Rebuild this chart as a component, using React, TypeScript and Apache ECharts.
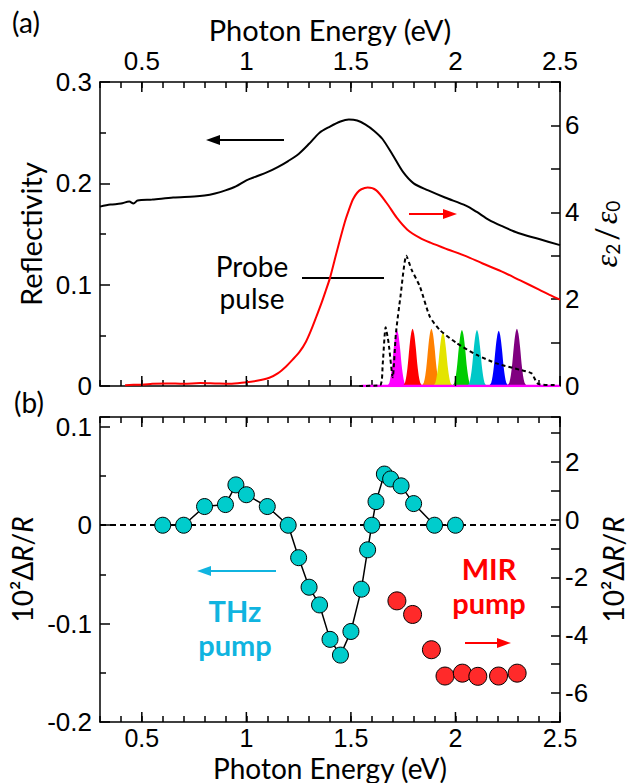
import React, { useEffect, useRef } from 'react';
import * as echarts from 'echarts';

// ---------- data ----------
const xMajorTicks = [0.5, 1, 1.5, 2, 2.5];

// (a) reflectivity (left axis)
const reflectivity = [
  [0.30, 0.177], [0.35, 0.179], [0.40, 0.180], [0.44, 0.182], [0.46, 0.180], [0.48, 0.183],
  [0.55, 0.184], [0.65, 0.186], [0.75, 0.187], [0.80, 0.188], [0.85, 0.190], [0.90, 0.193],
  [0.95, 0.197], [1.00, 0.203], [1.05, 0.207], [1.10, 0.211], [1.15, 0.216], [1.20, 0.222],
  [1.25, 0.229], [1.30, 0.239], [1.35, 0.250], [1.40, 0.256], [1.45, 0.261], [1.49, 0.263],
  [1.53, 0.262], [1.57, 0.258], [1.61, 0.252], [1.65, 0.244], [1.70, 0.228], [1.75, 0.211],
  [1.80, 0.200], [1.87, 0.193], [1.95, 0.186], [2.05, 0.178], [2.10, 0.172], [2.16, 0.164],
  [2.22, 0.158], [2.30, 0.151], [2.40, 0.145], [2.50, 0.139],
];

// (a) eps2/eps0 (right axis)
const epsilon2 = [
  [0.42, 0.02], [0.46, 0.03], [0.50, 0.03], [0.55, 0.05], [0.62, 0.06], [0.70, 0.05],
  [0.78, 0.07], [0.85, 0.06], [0.92, 0.05], [0.99, 0.08], [1.05, 0.12], [1.11, 0.19],
  [1.15, 0.29], [1.19, 0.45], [1.22, 0.60], [1.255, 0.79], [1.285, 1.02], [1.31, 1.29],
  [1.335, 1.60], [1.36, 1.92], [1.38, 2.20], [1.40, 2.49], [1.435, 3.14], [1.47, 3.76],
  [1.49, 4.05], [1.51, 4.30], [1.53, 4.45], [1.55, 4.53], [1.58, 4.57], [1.62, 4.51],
  [1.67, 4.22], [1.72, 3.87], [1.77, 3.60], [1.83, 3.41], [1.88, 3.30], [1.96, 3.15],
  [2.05, 2.99], [2.13, 2.82], [2.22, 2.64], [2.31, 2.43], [2.40, 2.22], [2.45, 2.10], [2.50, 1.99],
];

// (a) probe pulse spectrum (right axis, dashed)
const probePulse = [
  [1.54, 0], [1.64, 0.02], [1.652, 0.5], [1.666, 1.35], [1.68, 1.0], [1.70, 0.2], [1.715, 1.2],
  [1.737, 2.06], [1.765, 3.0], [1.79, 2.68], [1.83, 2.29], [1.877, 1.6], [1.925, 1.29],
  [2.005, 0.99], [2.10, 0.72], [2.196, 0.52], [2.31, 0.37], [2.364, 0.29], [2.395, 0.05], [2.48, 0.02],
];

// (a) coloured probe pulses
const pulseCenters = [1.72, 1.795, 1.885, 1.94, 2.031, 2.103, 2.207, 2.294];
const pulseHeights = [1.29, 1.32, 1.32, 1.24, 1.29, 1.29, 1.27, 1.32];
const pulseColors = ['#ff00ff', '#ff0000', '#ff8000', '#e4e400', '#00cc00', '#00c8c8', '#0000ff', '#800080'];
const pulseOffsets = [-0.048, -0.036, -0.025, -0.015, -0.007, 0, 0.007, 0.015, 0.025, 0.036, 0.048];
const pulseShape = [0, 0.06, 0.3, 0.68, 0.92, 1, 0.92, 0.68, 0.3, 0.06, 0];
const pulseBaseline = [1.55, 2.5];

// (b) THz pump (left axis)
const thzPump = [
  [0.6, 0], [0.7, 0], [0.8, 0.019], [0.9, 0.021], [0.95, 0.041], [1.0, 0.031], [1.1, 0.019],
  [1.2, 0], [1.25, -0.033], [1.3, -0.063], [1.35, -0.081], [1.4, -0.116], [1.45, -0.132],
  [1.5, -0.108], [1.55, -0.065], [1.58, -0.025], [1.6, 0], [1.62, 0.024], [1.66, 0.052],
  [1.69, 0.047], [1.74, 0.040], [1.8, 0.022], [1.9, 0], [2.0, 0],
];

// (b) MIR pump (right axis)
const mirPump = [
  [1.72, -2.81], [1.795, -3.28], [1.885, -4.5], [1.95, -5.41], [2.033, -5.31],
  [2.107, -5.42], [2.206, -5.41], [2.295, -5.31],
];

// ---------- styling ----------
const NUM = "'Liberation Sans', Arial, sans-serif";
const TXT = "Lato, 'Open Sans', sans-serif";
const CYAN_PT = '#00cccc';
const CYAN_TXT = '#10b4e0';
const RED = '#ff0000';

const fmtTenth = (v: number) => {
  const r = Math.round(v * 10) / 10;
  return Math.abs(v - r) < 1e-6 ? String(r) : '';
};
const fmtHalf = (v: number) => {
  const r = Math.round(v * 2) / 2;
  return Math.abs(v - r) < 1e-6 ? String(r) : '';
};
const fmtEven = (v: number) => {
  const r = Math.round(v);
  return Math.abs(v - r) < 1e-6 && r % 2 === 0 ? String(r === 0 ? 0 : r) : '';
};

const axisLine = { show: true, onZero: false, lineStyle: { color: '#000', width: 1.5 } };
const tickStyle = { color: '#000', width: 1.5 };
const numLabel = { color: '#000', fontFamily: NUM, fontSize: 26 };
const nameStyle = { color: '#000', fontFamily: TXT, fontSize: 29 };

function xAxis(grid: number, position: string, showLabel: boolean, name?: string) {
  const top = position === 'top';
  return {
    type: 'value', gridIndex: grid, position, min: 0.3, max: 2.5, interval: 0.1,
    axisLine, splitLine: { show: false },
    axisTick: { show: true, inside: true, length: 6, lineStyle: tickStyle },
    axisLabel: top
      ? { show: showLabel, formatter: fmtHalf, margin: 8, ...numLabel, lineHeight: 26 }
      : { show: showLabel, formatter: fmtHalf, margin: 4, ...numLabel, fontSize: 25, lineHeight: 23 },
    name: name || '', nameLocation: 'middle', nameGap: top ? 38 : 32,
    nameTextStyle: top ? nameStyle : { ...nameStyle, fontSize: 28, lineHeight: 27 },
  };
}

function majorTickSeries(xIdx: number, yIdx: number, yMin: number, yMax: number) {
  return {
    type: 'custom', xAxisIndex: xIdx, yAxisIndex: yIdx, silent: true, z: 10,
    data: xMajorTicks.map((v) => [v, yMin]),
    encode: { x: 0, y: 1 },
    renderItem: (_p: any, api: any) => {
      const v = api.value(0);
      const b = api.coord([v, yMin]);
      const t = api.coord([v, yMax]);
      return {
        type: 'group',
        children: [
          { type: 'line', shape: { x1: b[0], y1: b[1], x2: b[0], y2: b[1] - 10 }, style: { stroke: '#000', lineWidth: 1.5 } },
          { type: 'line', shape: { x1: t[0], y1: t[1], x2: t[0], y2: t[1] + 10 }, style: { stroke: '#000', lineWidth: 1.5 } },
        ],
      };
    },
  };
}

function arrow(x1: number, x2: number, y: number, color: string, head = 14, half = 5, width = 2) {
  const dir = x2 > x1 ? 1 : -1;
  const base = x2 - dir * head;
  return [
    { type: 'line', shape: { x1, y1: y, x2: base, y2: y }, style: { stroke: color, lineWidth: width } },
    { type: 'polygon', shape: { points: [[x2, y], [base, y - half], [base, y + half]] }, style: { fill: color } },
  ];
}

function txt(text: string, x: number, y: number, extra: any = {}) {
  return {
    type: 'text', x, y,
    style: { text, fill: '#000', font: `28px ${TXT}`, align: 'center', verticalAlign: 'middle', ...extra },
  };
}

export default function App() {
  const ref = useRef<HTMLDivElement>(null);
  useEffect(() => {
    if (!ref.current) return;
    const chart = echarts.init(ref.current, undefined, { renderer: 'svg' });

    const pulseSeries = pulseCenters.map((c, i) => ({
      type: 'line', xAxisIndex: 0, yAxisIndex: 1, z: 2, silent: true,
      data: pulseOffsets.map((o, k) => [c + o, pulseHeights[i] * pulseShape[k]]),
      symbol: 'none', smooth: 0.3, lineStyle: { width: 0 },
      areaStyle: { color: pulseColors[i], opacity: 1 },
    }));

    const richR = {
      n: { fontFamily: TXT, fontSize: 28, color: '#000' },
      i: { fontFamily: TXT, fontStyle: 'italic', fontSize: 28, color: '#000' },
    };

    const option: any = {
      animation: false,
      backgroundColor: '#fff',
      grid: [
        { left: 100, right: 77, top: 82, height: 304 },
        { left: 100, right: 77, top: 417, height: 305 },
      ],
      xAxis: [
        xAxis(0, 'bottom', false),
        xAxis(0, 'top', true, 'Photon Energy (eV)'),
        xAxis(1, 'top', false),
        xAxis(1, 'bottom', true, 'Photon Energy (eV)'),
      ],
      yAxis: [
        {
          type: 'value', gridIndex: 0, position: 'left', min: 0, max: 0.3, interval: 0.1,
          axisLine, splitLine: { show: false },
          axisTick: { inside: true, length: 10, lineStyle: tickStyle },
          minorTick: { show: true, splitNumber: 2, length: 6, lineStyle: tickStyle },
          axisLabel: { formatter: fmtTenth, margin: 8, ...numLabel },
          name: 'Reflectivity', nameLocation: 'middle', nameGap: 48, nameRotate: 90, nameTextStyle: nameStyle,
        },
        {
          type: 'value', gridIndex: 0, position: 'right', min: 0, max: 7, interval: 1,
          axisLine, splitLine: { show: false },
          axisTick: { inside: true, length: 9, lineStyle: tickStyle },
          axisLabel: { formatter: fmtEven, margin: 5, ...numLabel },
          name: '{i|ε}{s|2}{n|/}{i|ε}{s|0}', nameLocation: 'middle', nameGap: 24, nameRotate: 90,
          nameTextStyle: {
            rich: {
              i: { fontFamily: "'Liberation Serif', serif", fontStyle: 'italic', fontSize: 32, color: '#000' },
              s: { fontFamily: TXT, fontSize: 19, color: '#000', verticalAlign: 'bottom' },
              n: { fontFamily: TXT, fontSize: 30, color: '#000', padding: [0, 3, 0, 3] },
            },
          },
        },
        {
          type: 'value', gridIndex: 1, position: 'left', min: -0.2, max: 0.11, interval: 0.1,
          axisLine, splitLine: { show: false },
          axisTick: { inside: true, length: 10, lineStyle: tickStyle },
          minorTick: { show: true, splitNumber: 2, length: 6, lineStyle: tickStyle },
          axisLabel: { formatter: fmtTenth, margin: 8, ...numLabel },
          name: '{n|10²Δ}{i|R}{n|/}{i|R}', nameLocation: 'middle', nameGap: 56, nameRotate: 90,
          nameTextStyle: { rich: richR },
        },
        {
          type: 'value', gridIndex: 1, position: 'right', min: -7, max: 3.55, interval: 1,
          axisLine, splitLine: { show: false },
          axisTick: { inside: true, length: 9, lineStyle: tickStyle },
          axisLabel: { formatter: fmtEven, margin: 5, ...numLabel },
          name: '{n|10²Δ}{i|R}{n|/}{i|R}', nameLocation: 'middle', nameGap: 26, nameRotate: 90,
          nameTextStyle: { rich: richR },
        },
      ],
      series: [
        majorTickSeries(0, 0, 0, 0.3),
        majorTickSeries(3, 2, -0.2, 0.11),
        {
          type: 'line', xAxisIndex: 0, yAxisIndex: 0, data: reflectivity, symbol: 'none', smooth: 0.3,
          lineStyle: { color: '#000', width: 2 }, z: 4,
        },
        {
          type: 'line', xAxisIndex: 0, yAxisIndex: 1, data: epsilon2, symbol: 'none', smooth: 0.3,
          lineStyle: { color: RED, width: 2 }, z: 4,
        },
        ...pulseSeries,
        {
          type: 'line', xAxisIndex: 0, yAxisIndex: 1, z: 3, symbol: 'none',
          data: pulseBaseline.map((x) => [x, 0]), lineStyle: { color: '#ff00ff', width: 2.5 },
        },
        {
          type: 'line', xAxisIndex: 0, yAxisIndex: 1, data: probePulse, symbol: 'none', smooth: 0.2,
          lineStyle: { color: '#000', width: 2, type: [4, 3] }, z: 5,
        },
        {
          type: 'line', xAxisIndex: 3, yAxisIndex: 2, data: thzPump, symbol: 'circle', symbolSize: 16,
          showSymbol: true, lineStyle: { color: '#000', width: 1.5 },
          itemStyle: { color: CYAN_PT, borderColor: '#000', borderWidth: 1 }, z: 5,
          markLine: {
            silent: true, symbol: 'none', label: { show: false },
            lineStyle: { type: [6, 4], color: '#000', width: 2 },
            data: [{ yAxis: 0 }],
          },
        },
        {
          type: 'scatter', xAxisIndex: 3, yAxisIndex: 3, data: mirPump, symbol: 'circle', symbolSize: 18,
          itemStyle: { color: '#ff2a2a', borderColor: '#000', borderWidth: 1, opacity: 1 }, z: 6,
        },
      ],
      graphic: [
        txt('(a)', 26, 22),
        txt('(b)', 29, 402),
        txt('Probe\npulse', 252, 282, { lineHeight: 32 }),
        { type: 'line', shape: { x1: 302, y1: 278, x2: 384, y2: 278 }, style: { stroke: '#000', lineWidth: 2 } },
        ...arrow(284, 206, 140, '#000'),
        ...arrow(409, 457, 214, RED),
        ...arrow(276, 197, 571, CYAN_TXT),
        ...arrow(465, 511, 643, RED),
        txt('THz\npump', 235, 627, { fill: CYAN_TXT, font: `bold 29px ${TXT}`, lineHeight: 34 }),
        txt('MIR\npump', 489, 585, { fill: RED, font: `bold 29px ${TXT}`, lineHeight: 34 }),
      ],
    };
    chart.setOption(option);
    return () => chart.dispose();
  }, []);

  return (
    <div
      ref={ref}
      style={{ position: 'absolute', left: 0, top: 0, width: 637, height: 783, background: '#fff' }}
    />
  );
}
